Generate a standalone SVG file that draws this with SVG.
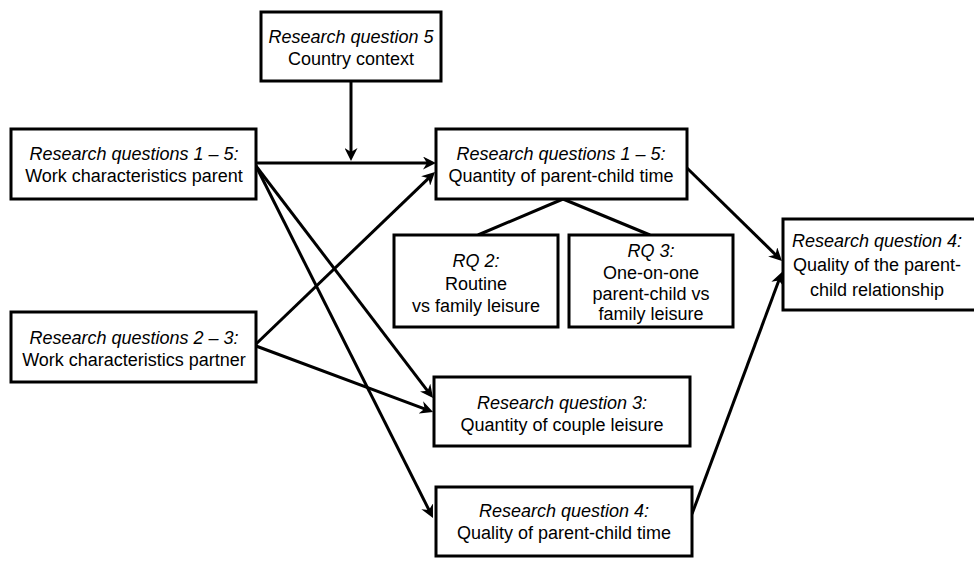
<svg xmlns="http://www.w3.org/2000/svg" width="974" height="574" viewBox="0 0 974 574">
<style>
.box{fill:#fff;stroke:#000;stroke-width:3}
text{font-family:"Liberation Sans",Arial,Helvetica,sans-serif;font-size:18px;fill:#000;text-anchor:middle}
.it{font-style:italic}
.c{fill:none;stroke:#000;stroke-width:3}
</style>
<defs>
<marker id="ah" viewBox="0 0 13 13" refX="9" refY="6.5" markerWidth="13" markerHeight="13" markerUnits="userSpaceOnUse" orient="auto">
<path d="M0,0 L13,6.5 L0,13 L4,6.5 z" fill="#000"/>
</marker>
</defs>
<rect width="974" height="574" fill="#fff"/>
<g id="connectors">
<line class="c" x1="351" y1="81" x2="351" y2="157" marker-end="url(#ah)"/>
<line class="c" x1="256" y1="163" x2="432" y2="163" marker-end="url(#ah)"/>
<line class="c" x1="256" y1="166" x2="430.6" y2="394.8" marker-end="url(#ah)"/>
<line class="c" x1="256" y1="166" x2="431.2" y2="514.4" marker-end="url(#ah)"/>
<line class="c" x1="256" y1="344" x2="432.1" y2="174.8" marker-end="url(#ah)"/>
<line class="c" x1="256" y1="346" x2="429.3" y2="410.6" marker-end="url(#ah)"/>
<line class="c" x1="687" y1="168" x2="779.1" y2="258.2" marker-end="url(#ah)"/>
<line class="c" x1="692" y1="514" x2="780.6" y2="275.7" marker-end="url(#ah)"/>
<line class="c" x1="563" y1="199" x2="478" y2="235"/>
<line class="c" x1="563" y1="199" x2="650" y2="235"/>
</g>
<g id="rq5">
<rect class="box" x="261" y="12" width="180" height="69"/>
<text class="it" x="351" y="43">Research question 5</text>
<text x="351" y="65">Country context</text>
</g>
<g id="parent">
<rect class="box" x="11" y="129" width="245" height="70"/>
<text class="it" x="134" y="160">Research questions 1 – 5:</text>
<text x="134" y="182">Work characteristics parent</text>
</g>
<g id="quantity">
<rect class="box" x="436" y="129" width="251" height="70"/>
<text class="it" x="561" y="160">Research questions 1 – 5:</text>
<text x="561" y="182">Quantity of parent-child time</text>
</g>
<g id="rq2">
<rect class="box" x="394" y="235" width="164" height="92"/>
<text class="it" x="476" y="267">RQ 2:</text>
<text x="476" y="290">Routine</text>
<text x="476" y="312">vs family leisure</text>
</g>
<g id="rq3">
<rect class="box" x="569" y="235" width="164" height="92"/>
<text class="it" x="651" y="257">RQ 3:</text>
<text x="651" y="279">One-on-one</text>
<text x="651" y="300">parent-child vs</text>
<text x="651" y="320">family leisure</text>
</g>
<g id="relationship">
<rect class="box" x="783" y="219" width="200" height="91"/>
<text class="it" x="877" y="247">Research question 4:</text>
<text x="877" y="271">Quality of the parent-</text>
<text x="877" y="296">child relationship</text>
</g>
<g id="partner">
<rect class="box" x="11" y="312" width="245" height="70"/>
<text class="it" x="134" y="344">Research questions 2 – 3:</text>
<text x="134" y="366">Work characteristics partner</text>
</g>
<g id="couple">
<rect class="box" x="434" y="377" width="256" height="69"/>
<text class="it" x="562" y="409">Research question 3:</text>
<text x="562" y="431">Quantity of couple leisure</text>
</g>
<g id="qualitytime">
<rect class="box" x="436" y="487" width="256" height="69"/>
<text class="it" x="564" y="517">Research question 4:</text>
<text x="564" y="539">Quality of parent-child time</text>
</g>
</svg>
